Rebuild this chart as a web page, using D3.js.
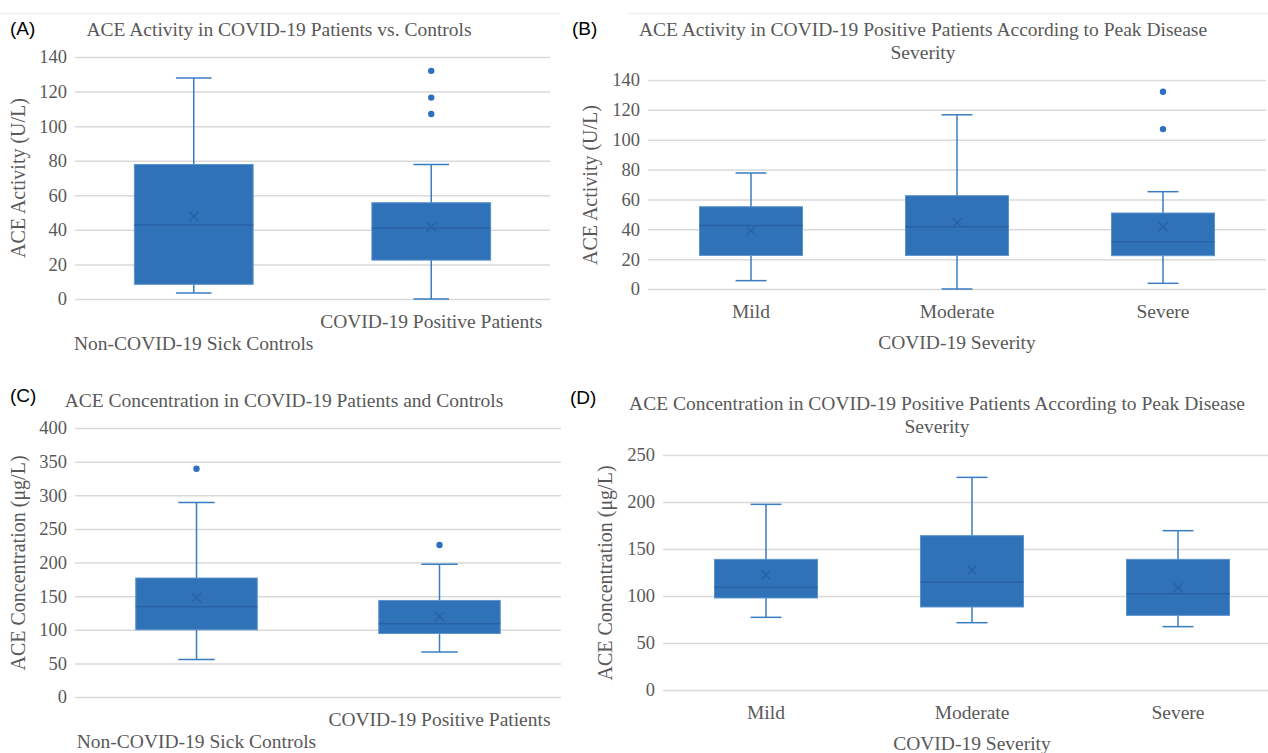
<!DOCTYPE html>
<html>
<head>
<meta charset="utf-8">
<script src="https://cdn.jsdelivr.net/npm/d3@7"></script>
<style>
  html, body { margin: 0; padding: 0; background: #ffffff; }
  svg { display: block; }
</style>
</head>
<body>
<svg id="chart" width="1268" height="753"></svg>
<script>
// ---------------- DATA ----------------
// Panel A: ACE activity, patients vs controls
const catsA = ["Non-COVID-19 Sick Controls", "COVID-19 Positive Patients"];
const minA = [3.5, 0];
const q1A = [8.5, 22.5];
const medA = [42.8, 41.1];
const q3A = [77.8, 55.7];
const maxA = [127.8, 77.8];
const meanA = [47.8, 41.7];
const outA = [[], [132, 116.5, 107]];
const ticksA = [0, 20, 40, 60, 80, 100, 120, 140];

// Panel B: ACE activity by severity
const catsB = ["Mild", "Moderate", "Severe"];
const minB = [5.6, 0, 3.8];
const q1B = [22.5, 22.5, 22.3];
const medB = [42.6, 41.7, 31.7];
const q3B = [55.1, 62.5, 50.9];
const maxB = [77.7, 116.7, 65.2];
const meanB = [39.0, 44.4, 41.7];
const outB = [[], [], [132.1, 107.1]];
const ticksB = [0, 20, 40, 60, 80, 100, 120, 140];

// Panel C: ACE concentration, patients vs controls
const catsC = ["Non-COVID-19 Sick Controls", "COVID-19 Positive Patients"];
const minC = [55.7, 67.1];
const q1C = [99.9, 94.4];
const medC = [134.2, 108.8];
const q3C = [176.9, 143.6];
const maxC = [289.2, 197.3];
const meanC = [147.6, 119.8];
const outC = [[339.4], [226]];
const ticksC = [0, 50, 100, 150, 200, 250, 300, 350, 400];

// Panel D: ACE concentration by severity
const catsD = ["Mild", "Moderate", "Severe"];
const minD = [77.3, 71.6, 67.4];
const q1D = [97.9, 88.3, 79.4];
const medD = [109.2, 114.5, 102.5];
const q3D = [139, 164.2, 139];
const maxD = [197.5, 226.2, 169.5];
const meanD = [122.3, 127.7, 108.9];
const outD = [[], [], []];
const ticksD = [0, 50, 100, 150, 200, 250];

// ---------------- DRAWING ----------------
const svg = d3.select("#chart");
const SERIF = "'Liberation Serif', 'Times New Roman', serif";
const SANS = "'Liberation Sans', Arial, sans-serif";
const GRAY = "#595959";
const GRID = "#d9d9d9";
const FILL = "#2f72b8";
const EDGE = "#5b93cc";
const WHISK = "#3a7cc1";
const MED = "#2962a3";
const TXT = "19.5px";

function build(cats, mn, q1, md, q3, mx, mean, outs) {
  return cats.map((c, i) => ({cat: c, min: mn[i], q1: q1[i], med: md[i], q3: q3[i], max: mx[i], mean: mean[i], out: outs[i]}));
}

function drawPanel(cfg) {
  const g = svg.append("g");
  const x = d3.scaleBand().domain(cfg.data.map(d => d.cat)).range([cfg.left, cfg.right]).padding(0);
  const y = d3.scaleLinear().domain([cfg.ticks[0], cfg.ticks[cfg.ticks.length - 1]]).range([cfg.bottom, cfg.top]);

  // gridlines + tick labels
  const ax = g.append("g")
    .attr("transform", `translate(${cfg.left},0)`)
    .call(d3.axisLeft(y).tickValues(cfg.ticks).tickSize(-(cfg.right - cfg.left)).tickPadding(8).tickFormat(d3.format("d")));
  ax.select(".domain").remove();
  ax.selectAll(".tick line").attr("stroke", GRID).attr("stroke-width", 1.5);
  ax.selectAll(".tick text").attr("fill", GRAY).style("font-family", SERIF).style("font-size", "18.5px");

  const bw = x.bandwidth() * 0.5;
  const cw = bw * 0.3;
  const boxes = g.selectAll(".box").data(cfg.data).enter().append("g");
  boxes.each(function(d) {
    const b = d3.select(this);
    const cx = x(d.cat) + x.bandwidth() / 2;
    // whiskers
    b.append("line").attr("x1", cx).attr("x2", cx).attr("y1", y(d.q3)).attr("y2", y(d.max)).attr("stroke", WHISK).attr("stroke-width", 1.5);
    b.append("line").attr("x1", cx).attr("x2", cx).attr("y1", y(d.q1)).attr("y2", y(d.min)).attr("stroke", WHISK).attr("stroke-width", 1.5);
    b.append("line").attr("x1", cx - cw / 2).attr("x2", cx + cw / 2).attr("y1", y(d.max)).attr("y2", y(d.max)).attr("stroke", WHISK).attr("stroke-width", 1.5);
    b.append("line").attr("x1", cx - cw / 2).attr("x2", cx + cw / 2).attr("y1", y(d.min)).attr("y2", y(d.min)).attr("stroke", WHISK).attr("stroke-width", 1.5);
    // box
    b.append("rect").attr("x", cx - bw / 2).attr("width", bw).attr("y", y(d.q3)).attr("height", y(d.q1) - y(d.q3))
      .attr("fill", FILL).attr("stroke", EDGE).attr("stroke-width", 1);
    // median
    b.append("line").attr("x1", cx - bw / 2).attr("x2", cx + bw / 2).attr("y1", y(d.med)).attr("y2", y(d.med)).attr("stroke", MED).attr("stroke-width", 1.5);
    // mean marker x
    const m = 4.5, my = y(d.mean);
    b.append("path").attr("d", `M${cx - m},${my - m}L${cx + m},${my + m}M${cx - m},${my + m}L${cx + m},${my - m}`)
      .attr("stroke", MED).attr("stroke-width", 1.5).attr("fill", "none");
    // outliers
    b.selectAll("circle").data(d.out).enter().append("circle")
      .attr("cx", cx).attr("cy", v => y(v)).attr("r", 3.2).attr("fill", "#2f6fc0");
  });

  // category labels
  g.selectAll(".cl").data(cfg.data).enter().append("text")
    .attr("x", d => x(d.cat) + x.bandwidth() / 2)
    .attr("y", (d, i) => cfg.bottom + (cfg.stagger ? (i % 2 === 0 ? 51 : 29) : 29))
    .attr("text-anchor", "middle").attr("fill", GRAY)
    .style("font-family", SERIF).style("font-size", TXT)
    .text(d => d.cat);

  if (cfg.xTitle) {
    g.append("text").attr("x", (cfg.left + cfg.right) / 2).attr("y", cfg.bottom + 60)
      .attr("text-anchor", "middle").attr("fill", GRAY)
      .style("font-family", SERIF).style("font-size", TXT).text(cfg.xTitle);
  }

  // y title
  g.append("text").attr("transform", `translate(${cfg.yTitleX},${cfg.yTitleY}) rotate(-90)`)
    .attr("text-anchor", "middle").attr("dy", "0.35em").attr("fill", GRAY)
    .style("font-family", SERIF).style("font-size", "20px").text(cfg.yTitle);

  // chart title
  cfg.title.forEach((t, i) => {
    g.append("text").attr("x", cfg.titleX).attr("y", cfg.titleY + i * 23)
      .attr("text-anchor", "middle").attr("fill", GRAY)
      .style("font-family", SERIF).style("font-size", TXT).text(t);
  });

  // panel letter
  g.append("text").attr("x", cfg.labelX).attr("y", cfg.labelY).attr("fill", "#000")
    .style("font-family", SANS).style("font-size", "19px").text(cfg.label);
}

// faint top border lines
svg.append("line").attr("x1", 0).attr("x2", 560).attr("y1", 13.5).attr("y2", 13.5).attr("stroke", "#efefef").attr("stroke-width", 1.5);
svg.append("line").attr("x1", 628).attr("x2", 1268).attr("y1", 13.5).attr("y2", 13.5).attr("stroke", "#efefef").attr("stroke-width", 1.5);

drawPanel({
  data: build(catsA, minA, q1A, medA, q3A, maxA, meanA, outA), ticks: ticksA,
  left: 75, right: 550, top: 57, bottom: 299, stagger: true,
  yTitle: "ACE Activity (U/L)", yTitleX: 18, yTitleY: 178,
  title: ["ACE Activity in COVID-19 Patients vs. Controls"], titleX: 279, titleY: 36,
  label: "(A)", labelX: 10, labelY: 35
});

drawPanel({
  data: build(catsB, minB, q1B, medB, q3B, maxB, meanB, outB), ticks: ticksB,
  left: 648, right: 1266, top: 80, bottom: 289, stagger: false, xTitle: "COVID-19 Severity",
  yTitle: "ACE Activity (U/L)", yTitleX: 590, yTitleY: 185,
  title: ["ACE Activity in COVID-19 Positive Patients According to Peak Disease", "Severity"], titleX: 923, titleY: 36,
  label: "(B)", labelX: 572, labelY: 35
});

drawPanel({
  data: build(catsC, minC, q1C, medC, q3C, maxC, meanC, outC), ticks: ticksC,
  left: 75, right: 561, top: 428, bottom: 697, stagger: true,
  yTitle: "ACE Concentration (μg/L)", yTitleX: 18, yTitleY: 563,
  title: ["ACE Concentration in COVID-19 Patients and Controls"], titleX: 284, titleY: 407,
  label: "(C)", labelX: 10, labelY: 402
});

drawPanel({
  data: build(catsD, minD, q1D, medD, q3D, maxD, meanD, outD), ticks: ticksD,
  left: 663, right: 1281, top: 455, bottom: 690, stagger: false, xTitle: "COVID-19 Severity",
  yTitle: "ACE Concentration (μg/L)", yTitleX: 605, yTitleY: 573,
  title: ["ACE Concentration in COVID-19 Positive Patients According to Peak Disease", "Severity"], titleX: 937, titleY: 410,
  label: "(D)", labelX: 570, labelY: 404
});
</script>
</body>
</html>
